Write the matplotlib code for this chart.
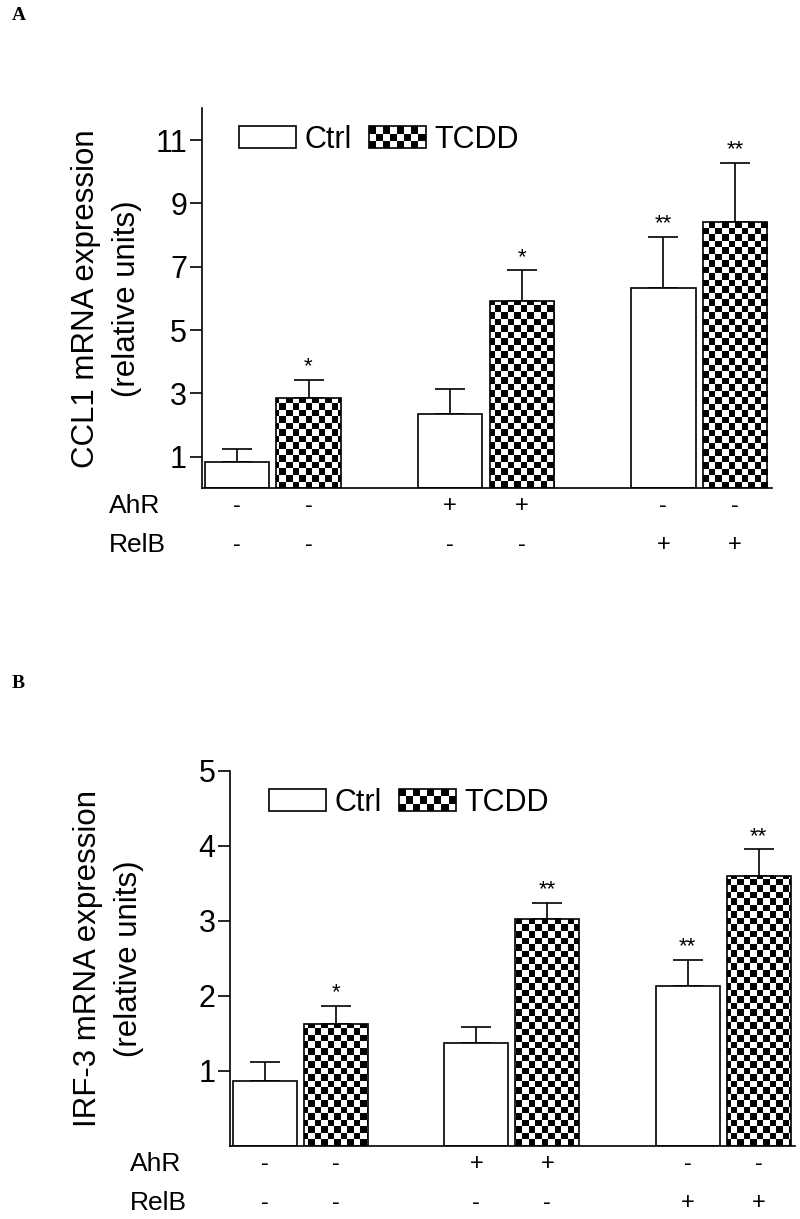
import numpy as np
import matplotlib.pyplot as plt
from matplotlib.patches import Rectangle
from matplotlib.legend_handler import HandlerBase

plt.rcParams['font.family'] = ['Liberation Sans', 'DejaVu Sans']

# 値
groups = [0, 1, 2]
ahr = ['-', '+', '-']
relb = ['-', '-', '+']
series = ['Ctrl', 'TCDD']

ccl1_ctrl = [0.84, 2.34, 6.33]
ccl1_ctrl_err = [0.40, 0.79, 1.61]
ccl1_tcdd = [2.84, 5.92, 8.40]
ccl1_tcdd_err = [0.59, 0.96, 1.88]
ccl1_ctrl_sig = ['', '', '**']
ccl1_tcdd_sig = ['*', '*', '**']
ccl1_ticks = [1, 3, 5, 7, 9, 11]

irf3_ctrl = [0.87, 1.37, 2.13]
irf3_ctrl_err = [0.25, 0.22, 0.35]
irf3_tcdd = [1.63, 3.03, 3.60]
irf3_tcdd_err = [0.24, 0.21, 0.35]
irf3_ctrl_sig = ['', '', '**']
irf3_tcdd_sig = ['*', '**', '**']
irf3_ticks = [1, 2, 3, 4, 5]

BAR_W = 0.302
GAP = 0.034
CELL = 6.5  # checker cell, px
LW = 1.2


class HandlerChecker(HandlerBase):
    def create_artists(self, legend, orig_handle, xdescent, ydescent,
                       width, height, fontsize, trans):
        x0, y0 = -xdescent, -ydescent
        nx, ny = 8, 3
        cw, ch = width / nx, height / ny
        out = [Rectangle((x0, y0), width, height, fc='white', ec='none', transform=trans)]
        for i in range(nx):
            for j in range(ny):
                if (i + j) % 2 == 0:
                    out.append(Rectangle((x0 + i * cw, y0 + j * ch), cw, ch,
                                         fc='black', ec='none', transform=trans))
        out.append(Rectangle((x0, y0), width, height, fill=False, ec='black',
                             lw=LW, transform=trans))
        return out


def checker_fill(ax, bars):
    bb = ax.get_window_extent()
    nx = int(np.ceil(bb.width / CELL))
    ny = int(np.ceil(bb.height / CELL))
    board = np.add.outer(np.arange(ny), np.arange(nx)) % 2
    x0, x1 = ax.get_xlim()
    y0, y1 = ax.get_ylim()
    ex1 = x0 + nx * CELL / bb.width * (x1 - x0)
    ey1 = y0 + ny * CELL / bb.height * (y1 - y0)
    for bar in bars:
        im = ax.imshow(board, extent=(x0, ex1, y0, ey1), origin='lower',
                       cmap='gray', interpolation='nearest', aspect='auto', zorder=2)
        im.set_clip_path(bar)
    ax.set_xlim(x0, x1)
    ax.set_ylim(y0, y1)


def draw_panel(ax, ctrl, ctrl_err, tcdd, tcdd_err, ctrl_sig, tcdd_sig,
               ticks, ymax, ylabel, lab_x, leg_xy, row_x):
    g = np.array(groups, dtype=float)
    xc = g - (BAR_W + GAP) / 2
    xt = g + (BAR_W + GAP) / 2

    ax.errorbar(xc, ctrl, yerr=[np.zeros(3), ctrl_err], fmt='none', ecolor='black',
                elinewidth=LW, capsize=11, capthick=LW, zorder=1)
    ax.errorbar(xt, tcdd, yerr=[np.zeros(3), tcdd_err], fmt='none', ecolor='black',
                elinewidth=LW, capsize=11, capthick=LW, zorder=1)
    ax.bar(xc, ctrl, BAR_W, color='white', edgecolor='black', linewidth=LW, zorder=2)
    tb = ax.bar(xt, tcdd, BAR_W, color='white', edgecolor='none', zorder=2)
    ax.bar(xt, tcdd, BAR_W, fill=False, edgecolor='black', linewidth=LW, zorder=3)

    ax.set_xlim(-0.333, 2.34)
    ax.set_ylim(0, ymax)
    checker_fill(ax, tb)

    # 有意差
    for x, y, e, s in zip(list(xc) + list(xt), ctrl + tcdd, ctrl_err + tcdd_err,
                          ctrl_sig + tcdd_sig):
        if s:
            ax.annotate(s, xy=(x, y + e), xytext=(0, 5.5), textcoords='offset points',
                        ha='center', va='baseline', fontsize=16)

    # 軸
    for side in ['top', 'right']:
        ax.spines[side].set_visible(False)
    for side in ['left', 'bottom']:
        ax.spines[side].set_linewidth(LW)
    ax.set_xticks([])
    ax.set_yticks(ticks)
    ax.tick_params(axis='y', labelsize=22, length=8.5, width=LW, pad=2)
    ax.text(lab_x, 0.5, ylabel, transform=ax.transAxes, rotation=90, ha='center',
            va='center', fontsize=22.5, linespacing=1.45, multialignment='center')

    # 凡例
    h_ctrl = Rectangle((0, 0), 1, 1, fc='white', ec='black', lw=LW)
    h_tcdd = Rectangle((0, 0), 1, 1)
    ax.legend([h_ctrl, h_tcdd], series, handler_map={h_tcdd: HandlerChecker()},
              ncol=2, frameon=False, loc='center left', bbox_to_anchor=leg_xy,
              borderpad=0, borderaxespad=0, handlelength=1.86, handleheight=0.72,
              handletextpad=0.28, columnspacing=0.55, fontsize=22)

    # AhR / RelB
    for name, signs, dy in [('AhR', ahr, -13), ('RelB', relb, -41)]:
        ax.annotate(name, xy=(0, 0), xycoords='axes fraction', xytext=(row_x, dy),
                    textcoords='offset points', ha='left', va='center', fontsize=19)
        for x1, x2, s in zip(xc, xt, signs):
            for x in (x1, x2):
                ax.annotate(s, xy=(x, 0), xycoords=('data', 'axes fraction'),
                            xytext=(0, dy), textcoords='offset points',
                            ha='center', va='center', fontsize=17)


fig = plt.figure(figsize=(8, 12.19), dpi=100)
ax1 = fig.add_axes([0.2521, 0.5994, 0.7125, 0.3117])
ax2 = fig.add_axes([0.2875, 0.0599, 0.7063, 0.3079])

draw_panel(ax1, ccl1_ctrl, ccl1_ctrl_err, ccl1_tcdd, ccl1_tcdd_err,
           ccl1_ctrl_sig, ccl1_tcdd_sig, ccl1_ticks, 12,
           'CCL1 mRNA expression\n(relative units)', -0.167, (0.066, 0.917), -67)
draw_panel(ax2, irf3_ctrl, irf3_ctrl_err, irf3_tcdd, irf3_tcdd_err,
           irf3_ctrl_sig, irf3_tcdd_sig, irf3_ticks, 5,
           'IRF-3 mRNA expression\n(relative units)', -0.215, (0.0696, 0.915), -72)

fig.text(12 / 800, 1 - 15 / 1219, 'A', family='Liberation Serif', weight='bold',
         fontsize=14, va='center')
fig.text(12 / 800, 1 - 684 / 1219, 'B', family='Liberation Serif', weight='bold',
         fontsize=14, va='center')

plt.savefig('out.png', dpi=100)
